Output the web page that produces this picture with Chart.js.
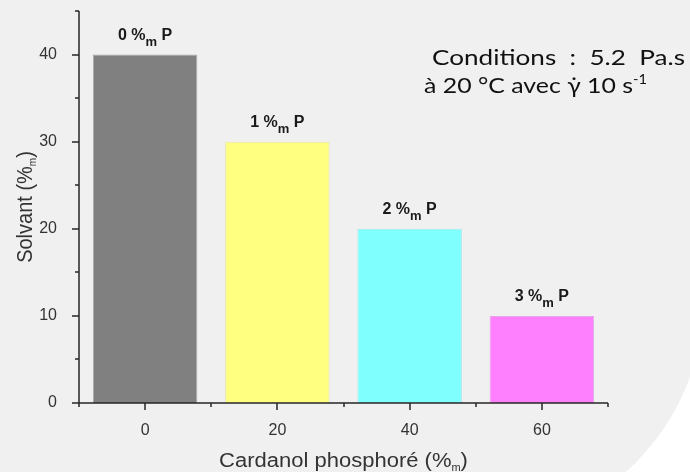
<!DOCTYPE html>
<html>
<head>
<meta charset="utf-8">
<script src="https://cdn.jsdelivr.net/npm/chart.js@4"></script>
<style>
  html, body { margin: 0; padding: 0; background: #f0f0f0; overflow: hidden; }
  #wrap { width: 690px; height: 472px; position: relative; }
</style>
</head>
<body>
<div id="wrap"><canvas id="c" width="690" height="472"></canvas></div>
<script>
// Cardanol phosphoré content (%m) and the solvent needed (%m)
const phosphore = [0, 20, 40, 60];
const solvant = [40, 30, 20, 10];
// phosphorus content written above each bar (%m P)
const teneurP = ['0', '1', '2', '3'];
// axis ticks
const xTicks = [0, 20, 40, 60];
const xMinorTicks = [-10, 10, 30, 50, 70];
const yTicks = [0, 10, 20, 30, 40];
const yMinorTicks = [5, 15, 25, 35, 45];

const fills = ['#808080', '#ffff80', '#80ffff', '#ff80ff'];
const edges = ['#a8a8a8', '#e6e6a6', '#a6e6e6', '#e6a6e6'];

const AXIS = '#262626';
const TEXT = '#333333';
const SANS = '"Liberation Sans", Arial, sans-serif';

// draws a run of text pieces (main text + sub/superscripts) starting at x
function drawRuns(ctx, runs, x, y) {
  let cx = x;
  for (const r of runs) {
    ctx.font = r.font;
    ctx.fillText(r.text, cx, y + (r.dy || 0));
    cx += ctx.measureText(r.text).width;
  }
  return cx - x;
}
function runsWidth(ctx, runs) {
  let w = 0;
  for (const r of runs) { ctx.font = r.font; w += ctx.measureText(r.text).width; }
  return w;
}

const decor = {
  id: 'decor',
  beforeDraw(chart) {
    const ctx = chart.ctx;
    const W = chart.width, H = chart.height;
    ctx.save();
    ctx.fillStyle = '#f0f0f0';
    ctx.fillRect(0, 0, W, H);
    // white outside the rounded corner of the grey panel
    ctx.beginPath();
    ctx.rect(469, 297, W - 469, H - 297);
    ctx.clip();
    ctx.beginPath();
    ctx.rect(0, 0, W, H);
    ctx.arc(469, 297, 235, 0, Math.PI * 2);
    ctx.fillStyle = '#ffffff';
    ctx.fill('evenodd');
    ctx.restore();
  },
  afterDatasetsDraw(chart) {
    const ctx = chart.ctx;
    const xs = chart.scales.x, ys = chart.scales.y;
    const area = chart.chartArea;
    ctx.save();

    // axis lines and tick marks
    ctx.strokeStyle = AXIS;
    ctx.lineWidth = 1.5;
    ctx.lineCap = 'butt';
    ctx.beginPath();
    ctx.moveTo(area.left, area.top);
    ctx.lineTo(area.left, area.bottom + 4);
    ctx.moveTo(area.left - 1, area.bottom);
    ctx.lineTo(area.right, area.bottom);
    for (const v of xTicks) {
      const px = Math.round(xs.getPixelForValue(v));
      ctx.moveTo(px, area.bottom); ctx.lineTo(px, area.bottom + 7);
    }
    for (const v of xMinorTicks) {
      const px = Math.round(xs.getPixelForValue(v));
      ctx.moveTo(px, area.bottom); ctx.lineTo(px, area.bottom + 4);
    }
    for (const v of yTicks) {
      const py = Math.round(ys.getPixelForValue(v));
      ctx.moveTo(area.left, py); ctx.lineTo(area.left - 7, py);
    }
    for (const v of yMinorTicks) {
      const py = Math.round(ys.getPixelForValue(v));
      ctx.moveTo(area.left, py); ctx.lineTo(area.left - 4, py);
    }
    ctx.stroke();

    // labels above the bars: "n %m P"
    ctx.fillStyle = '#1a1a1a';
    ctx.textBaseline = 'alphabetic';
    ctx.textAlign = 'left';
    const meta = chart.getDatasetMeta(0);
    meta.data.forEach((bar, i) => {
      const runs = [
        { text: teneurP[i] + ' %', font: 'bold 16px ' + SANS },
        { text: 'm', font: 'bold 13px ' + SANS, dy: 6 },
        { text: ' P', font: 'bold 16px ' + SANS }
      ];
      const w = runsWidth(ctx, runs);
      drawRuns(ctx, runs, bar.x - w / 2, bar.y - 15);
    });

    // axis titles
    ctx.fillStyle = TEXT;
    const xt = [
      { text: 'Cardanol phosphoré (%', font: '20px ' + SANS },
      { text: 'm', font: '10px ' + SANS, dy: 4 },
      { text: ')', font: '20px ' + SANS }
    ];
    const xtw = runsWidth(ctx, xt);
    ctx.save();
    ctx.translate((area.left + area.right) / 2, 467);
    ctx.scale(1.1, 1);
    drawRuns(ctx, xt, -xtw / 2, 0);
    ctx.restore();

    const yt = [
      { text: 'Solvant (%', font: '20px ' + SANS },
      { text: 'm', font: '10px ' + SANS, dy: 4 },
      { text: ')', font: '20px ' + SANS }
    ];
    const ytw = runsWidth(ctx, yt);
    ctx.save();
    ctx.translate(32, (area.top + area.bottom) / 2);
    ctx.rotate(-Math.PI / 2);
    ctx.scale(1, 1.1);
    drawRuns(ctx, yt, -ytw / 2, 0);
    ctx.restore();

    // measurement conditions
    ctx.fillStyle = '#111111';
    const l1 = [{ text: 'Conditions  :  5.2  Pa.s', font: '22px Lato, "Open Sans", sans-serif' }];
    const l2 = [
      { text: 'à 20 °C avec γ̇ 10 s', font: '22px Lato, "Open Sans", sans-serif' },
      { text: '-1', font: '13px Lato, "Open Sans", sans-serif', dy: -9 }
    ];
    const w1 = runsWidth(ctx, l1), w2 = runsWidth(ctx, l2);
    ctx.save();
    ctx.translate(432, 65);
    ctx.scale(253 / w1, 1);
    drawRuns(ctx, l1, 0, 0);
    ctx.restore();
    ctx.save();
    ctx.translate(424, 93);
    ctx.scale(223 / w2, 1);
    drawRuns(ctx, l2, 0, 0);
    ctx.restore();

    ctx.restore();
  }
};

new Chart(document.getElementById('c'), {
  type: 'bar',
  data: {
    datasets: [{
      data: phosphore.map((x, i) => ({ x: x, y: solvant[i] })),
      backgroundColor: fills,
      borderColor: edges,
      borderWidth: 1,
      barPercentage: 0.79,
      categoryPercentage: 1
    }]
  },
  options: {
    responsive: false,
    devicePixelRatio: 1,
    animation: false,
    layout: { padding: { top: 11, right: 82, left: 0, bottom: 0 } },
    plugins: { legend: { display: false }, tooltip: { enabled: false } },
    scales: {
      x: {
        type: 'linear',
        min: -10, max: 70,
        offset: false,
        grid: { display: false, offset: false },
        border: { display: false },
        afterBuildTicks: s => { s.ticks = xTicks.map(v => ({ value: v })); },
        afterFit: s => { s.height = 69; s.paddingLeft = 0; s.paddingRight = 0; },
        ticks: { color: TEXT, font: { family: SANS, size: 16 }, padding: 10, maxRotation: 0 }
      },
      y: {
        min: 0, max: 45,
        grid: { display: false },
        border: { display: false },
        afterBuildTicks: s => { s.ticks = yTicks.map(v => ({ value: v })); },
        afterFit: s => { s.width = 79; s.paddingTop = 0; s.paddingBottom = 0; },
        ticks: { color: TEXT, font: { family: SANS, size: 16 }, padding: 14 }
      }
    }
  },
  plugins: [decor]
});
</script>
</body>
</html>
